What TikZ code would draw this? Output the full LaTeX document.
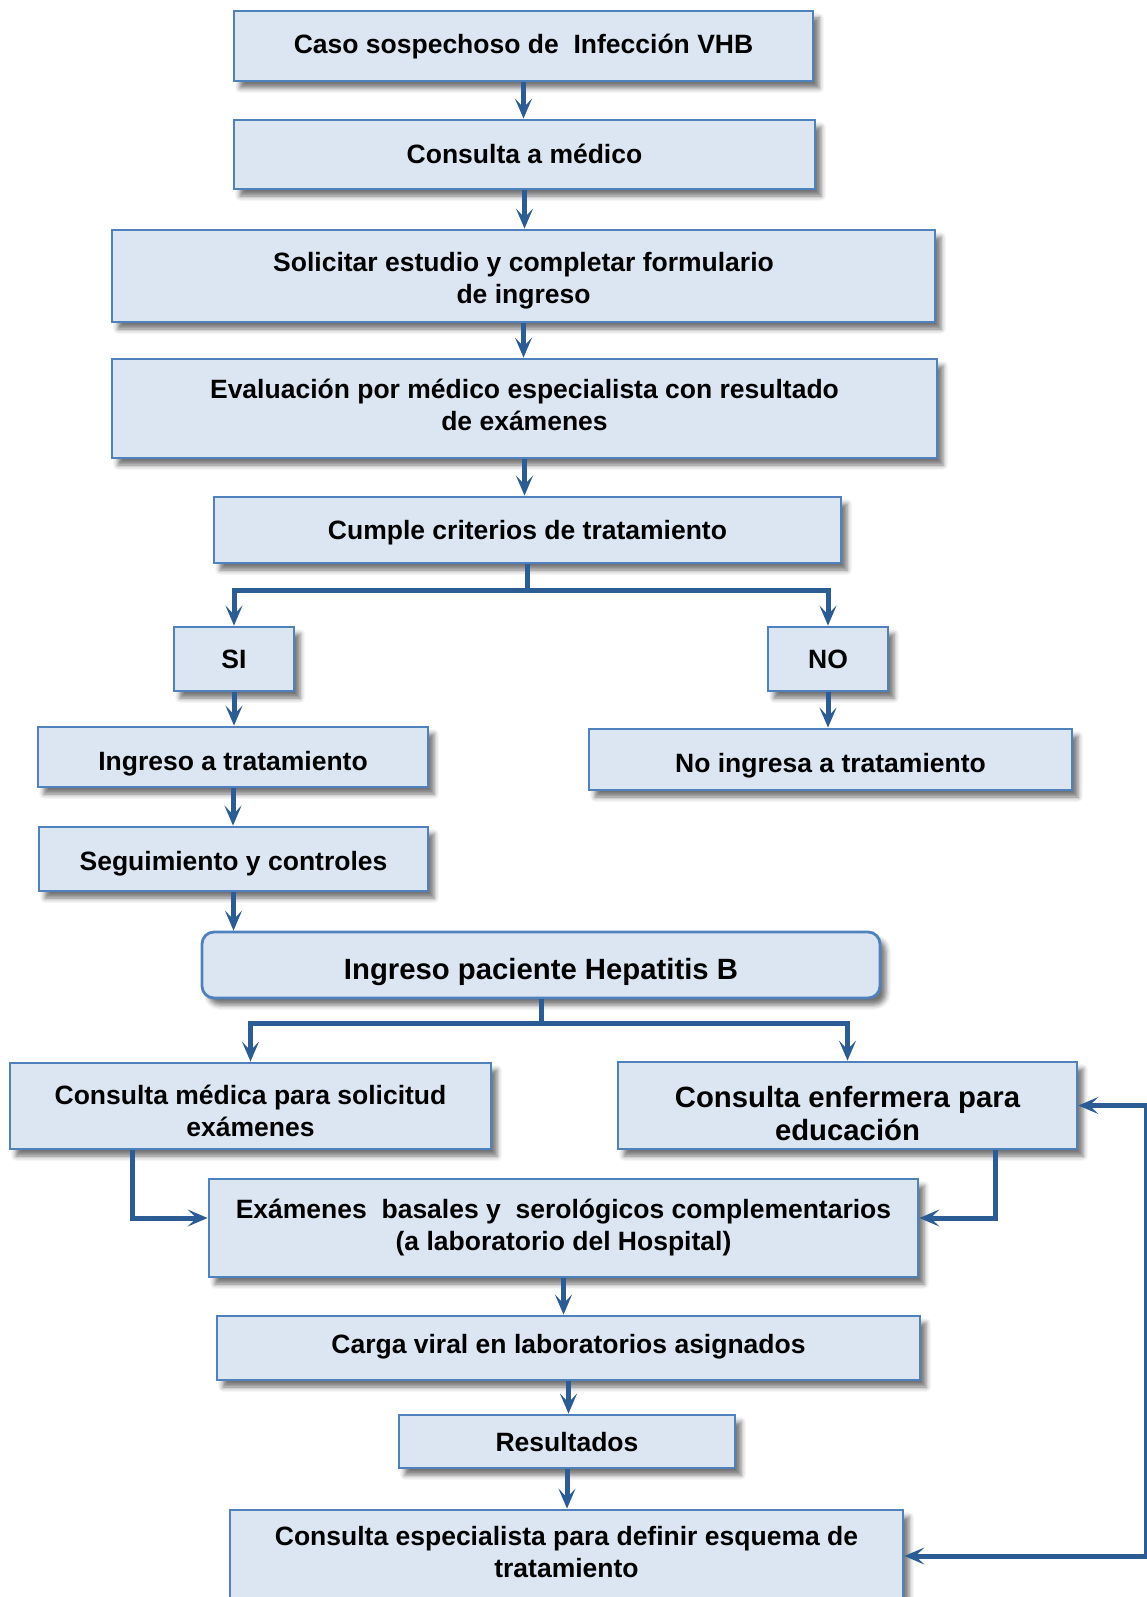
\documentclass[tikz,border=0pt]{standalone}
\usepackage{fontspec}
\setmainfont{Liberation Sans}
\usetikzlibrary{arrows.meta,shadows,shadows.blur,calc}
\definecolor{boxfill}{HTML}{DCE6F2}
\definecolor{boxline}{HTML}{4F81BD}
\definecolor{arrowc}{HTML}{2C5C94}
\newcommand\toprule[1][0pt]{\rule{0pt}{\dimexpr 1em+#1\relax}}
\newcommand\botrule[1][0pt]{\rule[-\dimexpr 0.28em+#1\relax]{0pt}{\dimexpr 0.28em+#1\relax}}
\begin{document}
\begin{tikzpicture}[x=1pt,y=-1pt,
  box/.style={draw=boxline, line width=2.8pt, fill=boxfill, align=center, inner sep=0pt,
    font=\fontsize{26.5}{32}\selectfont\bfseries,
    execute at begin node=\toprule, execute at end node=\botrule,
    blur shadow={shadow xshift=6pt,shadow yshift=-7pt,shadow blur radius=5pt,shadow opacity=55}},
  tdown/.style={execute at begin node={\toprule[#1]}},
  tup/.style={execute at end node={\botrule[#1]}},
  big/.style={font=\fontsize{29.3}{33}\selectfont\bfseries},
  tip/.tip={Stealth[length=20pt,width=17pt,inset=9pt]},
  arr/.style={draw=arrowc, line width=5pt, -tip},
  dbl/.style={draw=arrowc, line width=5pt, tip-tip},
  ln/.style={draw=arrowc, line width=5pt}]
\clip (0,0) rectangle (1147,1597);
\useasboundingbox (0,0) rectangle (1147,1597);

\node[box, tup=4pt, minimum width=579pt, minimum height=70pt] (c1) at (523.5,46) {Caso sospechoso de\ \ Infección VHB};
\node[box, tup=2pt, minimum width=581pt, minimum height=69pt] (c2) at (524.5,154.5) {Consulta a médico};
\node[box, tdown=35pt, minimum width=823pt, minimum height=92pt] (c3) at (523.5,276) {Solicitar estudio y completar formulario\\de ingreso};
\node[box, minimum width=825pt, minimum height=99pt] (c4) at (524.5,408.5) {Evaluación por médico especialista con resultado\\de exámenes};
\node[box, minimum width=627pt, minimum height=66pt] (c5) at (527.5,530) {Cumple criterios de tratamiento};
\node[box, minimum width=120pt, minimum height=64pt] (si) at (234,659) {SI};
\node[box, minimum width=120pt, minimum height=64pt] (no) at (828,659) {NO};
\node[box, tdown=8pt, minimum width=390pt, minimum height=60pt] (ing) at (233,757) {Ingreso a tratamiento};
\node[box, tdown=6pt, minimum width=483pt, minimum height=61pt] (noing) at (830.5,759.5) {No ingresa a tratamiento};
\node[box, tdown=4pt, minimum width=389pt, minimum height=64pt] (seg) at (233.5,859) {Seguimiento y controles};
\node[box, big, tdown=8pt, rounded corners=12pt, minimum width=678pt, minimum height=66pt] (ip) at (541,965) {Ingreso paciente Hepatitis B};
\node[box, tdown=42pt, minimum width=481pt, minimum height=86pt] (med) at (250.5,1106) {Consulta médica para solicitud\\exámenes};
\node[box, big, tdown=49pt, minimum width=459pt, minimum height=87pt] (enf) at (847.5,1105.5) {Consulta enfermera para\\educación};
\node[box, minimum width=709pt, minimum height=98pt] (ex) at (563.5,1228) {Exámenes\ \ basales y\ \ serológicos complementarios\\(a laboratorio del Hospital)};
\node[box, tup=8pt, minimum width=703pt, minimum height=64pt] (cv) at (568.5,1348) {Carga viral en laboratorios asignados};
\node[box, minimum width=336pt, minimum height=53pt] (res) at (567,1441.5) {Resultados};
\node[box, tup=19pt, minimum width=673pt, minimum height=110pt] (esp) at (566.5,1565) {Consulta especialista para definir esquema de\\tratamiento};

\draw[arr] (c1.south) -- (c1.south |- c2.north);
\draw[arr] (c2.south) -- (c2.south |- c3.north);
\draw[arr] (c3.south) -- (c3.south |- c4.north);
\draw[arr] (c4.south) -- (c4.south |- c5.north);
\draw[ln] (c5.south) -- ++(0,26) coordinate (b1);
\draw[arr] (b1) -| (si.north);
\draw[arr] (b1) -| (no.north);
\draw[arr] (si.south) -- (si.south |- ing.north);
\draw[arr] (no.south) -- (no.south |- noing.north);
\draw[arr] (ing.south) -- (ing.south |- seg.north);
\draw[arr] (seg.south) -- (seg.south |- ip.north);
\draw[ln] (ip.south) -- ++(0,24) coordinate (b2);
\draw[arr] (b2) -| (med.north);
\draw[arr] (b2) -| (enf.north);
\draw[arr] ([xshift=-118.5pt]med.south) |- ($(ex.west)+(0,-10)$);
\draw[arr] ([xshift=147.5pt]enf.south) |- ($(ex.east)+(0,-10)$);
\draw[arr] (ex.south) -- (ex.south |- cv.north);
\draw[arr] (cv.south) -- (cv.south |- res.north);
\draw[arr] (res.south) -- (res.south |- esp.north);
\draw[dbl] ($(esp.east)+(0,-9)$) -- ++(242,0) |- (enf.east);
\end{tikzpicture}
\end{document}
